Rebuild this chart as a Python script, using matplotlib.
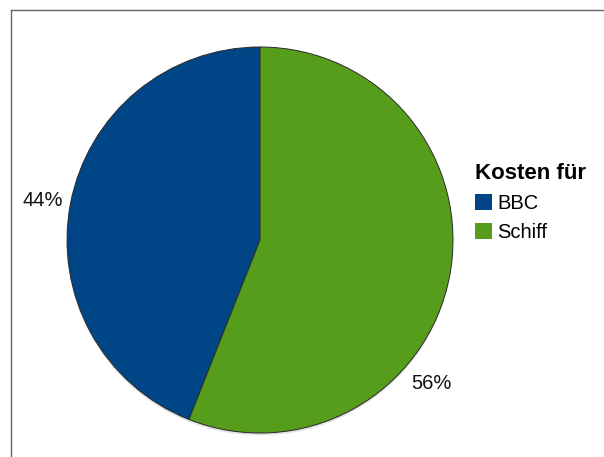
import matplotlib.pyplot as plt
from matplotlib.patches import Circle, Patch
from matplotlib.lines import Line2D

plt.rcParams['font.family'] = ['Liberation Sans', 'DejaVu Sans']

categories = ['BBC', 'Schiff']
values = [44, 56]
colors = ['#004586', '#579d1c']
legend_title = 'Kosten für'

W, H = 604, 457
fig = plt.figure(figsize=(W / 100, H / 100), dpi=100)

# pie centre (260, 240) px, radius 193 px
cx, cy, R = 260, 240, 193
ax = fig.add_axes([(cx - R) / W, (H - cy - R) / H, 2 * R / W, 2 * R / H])

# soft shadow under the pie
for i, a in enumerate([0.10, 0.10, 0.12]):
    ax.add_patch(Circle((0, -0.006 - 0.004 * i), 1.0, color='#808080', alpha=a,
                        lw=0, zorder=0, clip_on=False))

wedges, _ = ax.pie(values, colors=colors, startangle=90, counterclock=True,
                   radius=1.0, center=(0, 0), frame=True,
                   wedgeprops=dict(edgecolor='#2a2a2a', linewidth=0.7))
for w in wedges:
    w.set_zorder(2)
ax.set_xlim(-1, 1)
ax.set_ylim(-1, 1)
ax.set_aspect('equal')
ax.axis('off')

# percentage labels placed outside the pie
label_pos = [(-1.124, 0.207), (0.886, -0.741)]
total = sum(values)
for v, (x, y) in zip(values, label_pos):
    ax.text(x, y, f'{round(100 * v / total)}%', ha='center', va='center',
            fontsize=14.5, color='#111111', clip_on=False)

# outer frame (left and top edges visible)
fig.add_artist(Line2D([10.5 / W, 10.5 / W], [0, 1 - 9.5 / H],
                      transform=fig.transFigure, color='#666666', lw=1.0))
fig.add_artist(Line2D([10.5 / W, 1], [1 - 9.5 / H, 1 - 9.5 / H],
                      transform=fig.transFigure, color='#666666', lw=1.0))

handles = [Patch(facecolor=c, edgecolor='none') for c in colors]
leg = fig.legend(handles, categories, title=legend_title,
                 loc='upper left', bbox_to_anchor=(475 / W, 1 - 163 / H),
                 frameon=False, fontsize=14.5, handlelength=0.85, handleheight=0.85,
                 handletextpad=0.25, labelspacing=0.5, borderpad=0,
                 borderaxespad=0, alignment='left',
                 title_fontproperties={'weight': 'bold', 'size': 16})

fig.savefig('out.png', dpi=100, facecolor='white')
